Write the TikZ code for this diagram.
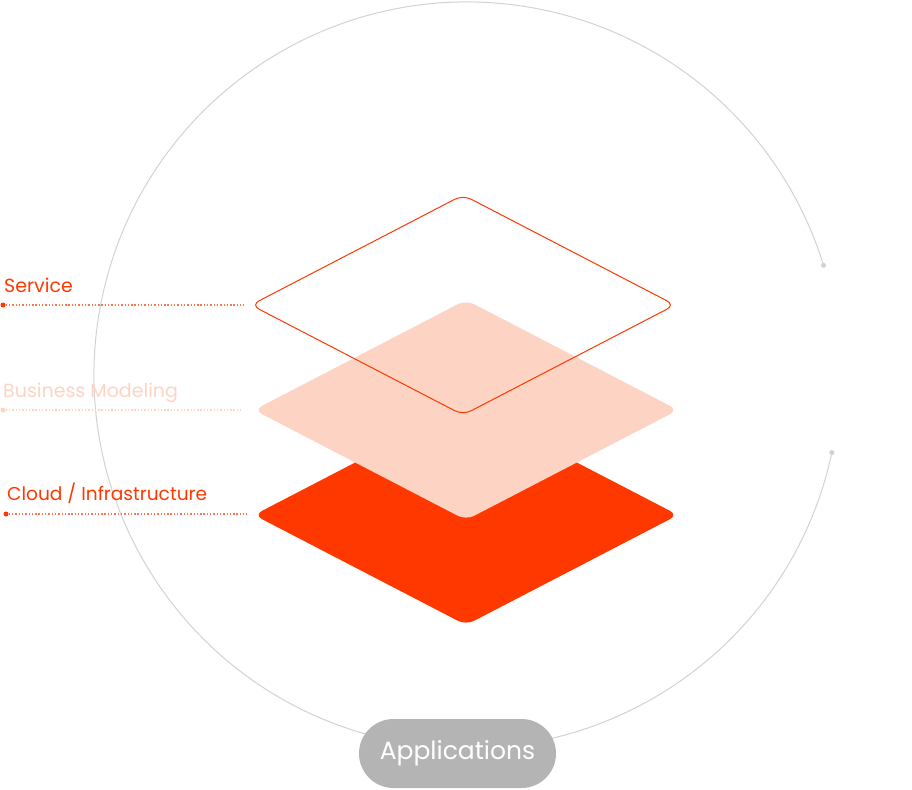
\documentclass[tikz,border=0pt]{standalone}
\usepackage{fontspec}
\setmainfont{Poppins}
\usepackage{tikz}
\usetikzlibrary{calc,backgrounds}
\definecolor{layerred}{HTML}{FF3800}
\definecolor{layerpeach}{HTML}{FDD3C4}
\definecolor{ringgray}{HTML}{D2D2D2}
\definecolor{pillgray}{HTML}{B4B4B4}
\newcommand{\hw}{212}
\newcommand{\hh}{110}
\newcommand{\ringr}{373}
\newcommand{\layerpath}[1]{(#1) ++(0,-\hh) -- ++(\hw,\hh) -- ++(-\hw,\hh) -- ++(-\hw,-\hh) -- cycle}

\begin{document}
\begin{tikzpicture}[x=1pt,y=-1pt,
    leader/.style={line width=1.4pt, dash pattern=on 1.4pt off 1.9pt},
    leaderdot/.style={circle, fill, inner sep=0pt, minimum size=5pt},
    ringdot/.style={circle, fill=ringgray, inner sep=0pt, minimum size=5pt},
    layername/.style={anchor=base west, inner sep=0pt, font=\fontsize{19}{19}\selectfont}]
    \useasboundingbox (0,0) rectangle (912,789);
    \coordinate (ring) at (467,375);
    \coordinate (svc) at (463,305);
    \coordinate (biz) at (466,410);
    \coordinate (cld) at (466,515);

    %Ring:
    \begin{scope}[on background layer]
        \node[ringdot] (ringA) at ($(ring)+(-17.1:\ringr)$) {};
        \node[ringdot] (ringB) at ($(ring)+(12:\ringr)$) {};
        \draw[ringgray, line width=1pt] (ringB.center) arc[start angle=12, end angle=342.9, radius=\ringr];
    \end{scope}

    %Layers:
    \fill[layerred, rounded corners=9pt] \layerpath{cld};
    \fill[layerpeach, rounded corners=9pt] \layerpath{biz};
    \draw[layerred, line width=1pt, rounded corners=9pt] \layerpath{svc};

    %Labels:
    \node[layername, text=layerred] (svctext) at (4,292) {Service};
    \node[layername, text=layerpeach] (biztext) at (3,397) {Business Modeling};
    \node[layername, text=layerred, font=\fontsize{18.6}{19}\selectfont] (cldtext) at (7,500) {Cloud / Infrastructure};

    \node[leaderdot, layerred] (svcdot) at (3,305) {};
    \node[leaderdot, layerpeach] (bizdot) at (3,410) {};
    \node[leaderdot, layerred] (clddot) at (6,514) {};
    \coordinate (svcend) at (244,305);
    \coordinate (bizend) at (242,410);
    \coordinate (cldend) at (247,514);
    \draw[leader, layerred!70] (svcdot) -- (svcend);
    \draw[leader, layerpeach] (bizdot) -- (bizend);
    \draw[leader, layerred!70] (clddot) -- (cldend);

    %Applications:
    \node[fill=pillgray, rounded corners=34.5pt, minimum width=197pt, minimum height=69pt,
        text=white, font=\fontsize{25}{25}\selectfont] (apps) at (457.5,753.5) {Applications};
\end{tikzpicture}
\end{document}
